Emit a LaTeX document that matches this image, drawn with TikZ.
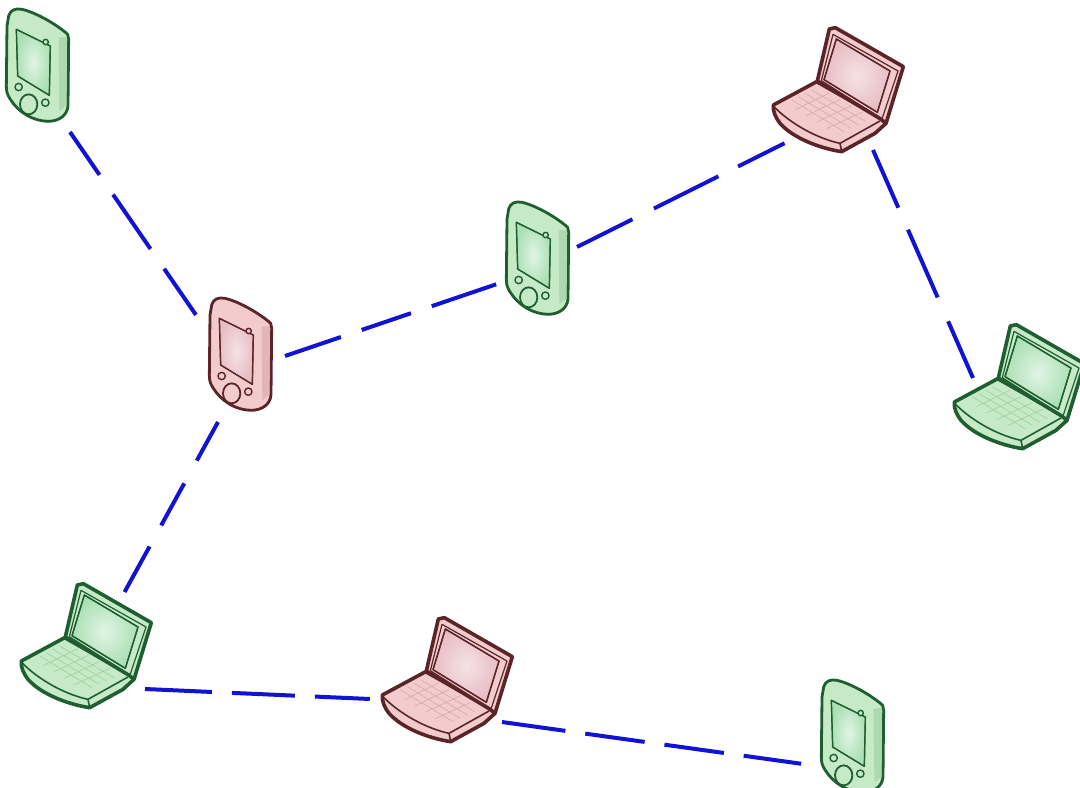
\documentclass[tikz,border=0pt]{standalone}
\usetikzlibrary{calc}
\definecolor{gline}{HTML}{1F5E30}
\definecolor{gfill}{HTML}{C6EAC6}
\definecolor{gscreen}{HTML}{ABE0B4}
\definecolor{gedge}{HTML}{9CCFA2}
\definecolor{rline}{HTML}{5A2428}
\definecolor{rfill}{HTML}{F2CCCC}
\definecolor{rscreen}{HTML}{E8BEC4}
\definecolor{redge}{HTML}{D8A6AA}
\definecolor{linkblue}{HTML}{1212D4}
\tikzset{
  x=0.5pt,y=-0.5pt,
  devicebox/.style={inner sep=0pt,outer sep=0pt,minimum width=60pt,minimum height=60pt},
  link/.style={draw=linkblue,line width=2pt},
  green device/.style={outl/.style={draw=gline},bodyf/.style={fill=gfill},scr/.style={inner color=gscreen!35!white,outer color=gscreen},detail/.style={draw=gedge},strip/.style={fill=gedge}},
  red device/.style={outl/.style={draw=rline},bodyf/.style={fill=rfill},scr/.style={inner color=rscreen!45!white,outer color=rscreen},detail/.style={draw=redge},strip/.style={fill=redge}},
  pda/.pic={
    \begin{scope}[scale=1/3,line join=round]
      \path[outl,bodyf,line width=1.4pt] (65,60) .. controls (70,42) and (85,36) .. (105,40)
        .. controls (150,50) and (215,90) .. (242,115)
        -- (245,130) -- (243,330) .. controls (240,360) and (215,375) .. (185,376)
        .. controls (140,376) and (95,350) .. (70,310)
        .. controls (60,295) and (58,285) .. (58,270) -- (60,90) -- cycle;
      \path[strip,opacity=.6] (215,125) -- (240,122) -- (238,330) -- (217,345) -- cycle;
      \path[outl,line width=0.5pt,shading=radial,scr] (88,100) -- (190,150) -- (187,298) -- (92,240) -- cycle;
      \path[outl,line width=0.7pt] (88,100) -- (190,150) -- (187,298) -- (92,240) -- cycle;
      \path[outl,bodyf,line width=0.7pt] (176,138) circle[radius=8];
      \path[outl,bodyf,line width=0.7pt] (95,273) circle[radius=11];
      \path[outl,bodyf,line width=0.7pt] (175,320) circle[radius=11];
      \path[outl,bodyf,line width=0.9pt] (125,325) ellipse[x radius=26,y radius=30];
    \end{scope}
  },
  laptop/.pic={
    \begin{scope}[scale=1/3,line join=round]
      % base
      \path[outl,bodyf,line width=1.8pt] (40,270) -- (170,200) -- (365,310) -- (378,325)
        -- (345,355) -- (245,410) .. controls (180,400) and (100,370) .. (60,325)
        .. controls (48,310) and (38,290) .. (40,270) -- cycle;
      % keyboard grid
      \foreach \t in {0.2,0.4,0.6,0.8}{
        \path[detail,line width=0.3pt] ($(75,265)!\t!(175,215)$) -- ($(230,360)!\t!(340,310)$);
        \path[detail,line width=0.3pt] ($(75,265)!\t!(230,360)$) -- ($(175,215)!\t!(340,310)$);
      }
      % front edge
      \path[outl,line width=0.8pt] (42,275) .. controls (90,325) and (170,370) .. (240,385) -- (360,318);
      \path[outl,line width=0.8pt] (240,385) -- (245,410);
      % lid
      \path[outl,bodyf,line width=1.8pt] (172,198) -- (208,42) -- (226,38) -- (430,155) -- (378,325) -- (362,312) -- cycle;
      \path[outl,line width=0.6pt] (184,197) -- (219,58) -- (414,168) -- (366,312) -- cycle;
      \path[outl,line width=0.6pt,shading=radial,scr] (229,72) -- (390,168) -- (352,292) -- (192,194) -- cycle;
      \path[outl,line width=0.7pt] (229,72) -- (390,168) -- (352,292) -- (192,194) -- cycle;
    \end{scope}
  },
}
\begin{document}
\begin{tikzpicture}
\useasboundingbox (0,0) rectangle (1080,787);
\path[fill=white] (0,0) rectangle (1080,787);
% device frames (reference point of each icon)
\node[devicebox] (pdaA) at (38,65) {};
\node[devicebox] (pdaB) at (241,354) {};
\node[devicebox] (pdaC) at (538,258) {};
\node[devicebox] (pdaD) at (853,736) {};
\node[devicebox] (lapA) at (838,90) {};
\node[devicebox] (lapB) at (1017,387) {};
\node[devicebox] (lapC) at (86,646) {};
\node[devicebox] (lapD) at (447,680) {};
% links
\draw[link,dash pattern=on 26pt off 12pt on 33pt off 12pt on 28pt off 12pt] ([shift={(32,67)}]pdaA.center) -- ([shift={(-45,-39)}]pdaB.center);
\draw[link,dash pattern=on 29.5pt off 11pt on 26pt off 11pt on 34pt off 11pt] ([shift={(44,2)}]pdaB.center) -- ([shift={(-41,26)}]pdaC.center);
\draw[link,dash pattern=on 31pt off 12pt on 36pt off 11pt on 26pt off 11pt] ([shift={(39,-11)}]pdaC.center) -- ([shift={(-51,52)}]lapA.center);
\draw[link,dash pattern=on 31.5pt off 12pt on 37pt off 13pt on 31pt off 11pt] ([shift={(35,60)}]lapA.center) -- ([shift={(-44,-9)}]lapB.center);
\draw[link,dash pattern=on 22pt off 13pt on 24pt off 12pt on 26pt off 11pt] ([shift={(-23,68)}]pdaB.center) -- ([shift={(38,-53)}]lapC.center);
\draw[link,dash pattern=on 33.5pt off 10pt on 31.5pt off 10pt on 27.5pt off 10pt] ([shift={(59,43)}]lapC.center) -- ([shift={(-77,19)}]lapD.center);
\draw[link,dash pattern=on 32pt off 10pt on 30pt off 10pt on 30pt off 10pt on 29pt off 10pt] ([shift={(55,42)}]lapD.center) -- ([shift={(-50,28)}]pdaD.center);
% icons
\pic[green device] at (-13,-4) {pda};
\pic[red device] at (190,285) {pda};
\pic[green device] at (487,189) {pda};
\pic[green device] at (802,667) {pda};
\pic[red device] at (760,15) {laptop};
\pic[green device] at (941,312) {laptop};
\pic[green device] at (8,571) {laptop};
\pic[red device] at (369,605) {laptop};
\end{tikzpicture}
\end{document}
